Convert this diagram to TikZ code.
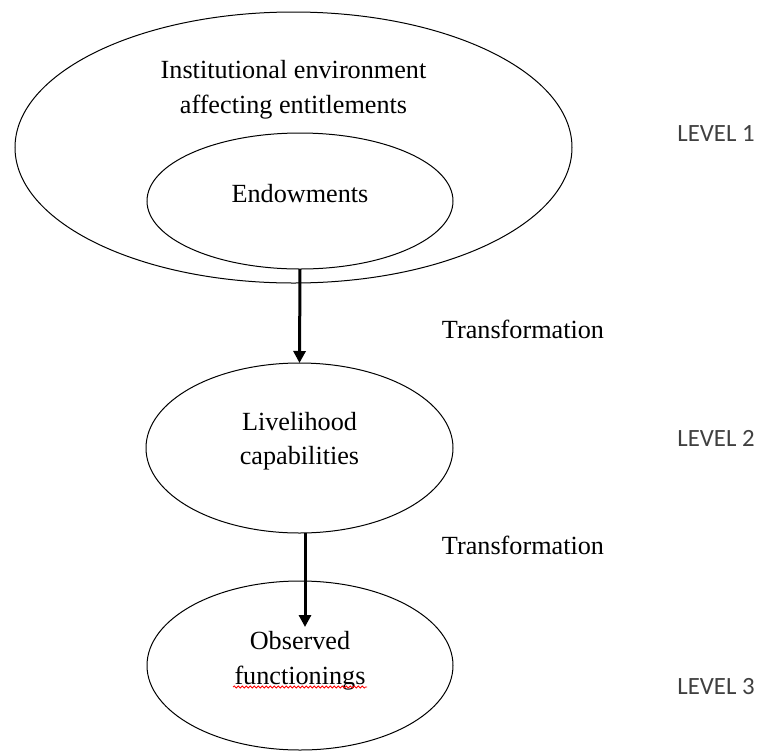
\documentclass[tikz,border=0pt]{standalone}
\usepackage{fontspec}
\setmainfont{Liberation Serif}
\newfontfamily\levelfont{Carlito}
\usetikzlibrary{shapes.geometric,arrows.meta,decorations.pathmorphing}

\begin{document}
\begin{tikzpicture}[x=0.5pt,y=-0.5pt,
  oval/.style={draw, ellipse, line width=0.5pt, inner sep=0pt, outer sep=0pt},
  txt/.style={font=\fontsize{13.1}{17.3}\selectfont, align=center, inner sep=0pt},
  lvl/.style={font=\levelfont\fontsize{12.4}{14}\selectfont, text=black!75, inner sep=0pt},
  flow/.style={line width=1.5pt, -{Triangle[length=6pt,width=6pt]}},
  spell/.style={red, line width=0.4pt, decorate,
    decoration={snake, amplitude=0.5pt, segment length=2pt}}]
\useasboundingbox (0,0) rectangle (762,751);

% level 1: environment containing the endowments
\node[oval, minimum width=278.5pt, minimum height=135.5pt] (env) at (293.5,147.5) {};
\node[oval, minimum width=153pt, minimum height=68pt] (endow) at (300,201) {};
\node[txt] (envtext) at (293.5,90) {Institutional environment\\affecting entitlements};
\node[txt] (endowtext) at (300,194) {Endowments};

% level 2
\node[oval, minimum width=153.5pt, minimum height=85pt] (liv) at (299.5,448) {};
\node[txt] (livtext) at (299.5,441) {Livelihood\\capabilities};

% level 3
\node[oval, minimum width=153pt, minimum height=84.5pt] (obs) at (300,665.5) {};
\node[txt] (obstext) at (300,661) {Observed\\functionings};
\coordinate (squigA) at (233,687);
\coordinate (squigB) at (367,687);
\draw[spell] (squigA) -- (squigB);

% transformations
\coordinate (tip2) at (305,627);
\draw[flow] (endow.south) -- (liv.north);
\draw[flow] (liv.south -| tip2) -- (tip2);
\node[txt] (tr1) at (523,329) {Transformation};
\node[txt] (tr2) at (523,545) {Transformation};

% level labels
\node[lvl] (l1) at (716,134) {LEVEL 1};
\node[lvl] (l2) at (716,438) {LEVEL 2};
\node[lvl] (l3) at (716,687) {LEVEL 3};
\end{tikzpicture}
\end{document}
